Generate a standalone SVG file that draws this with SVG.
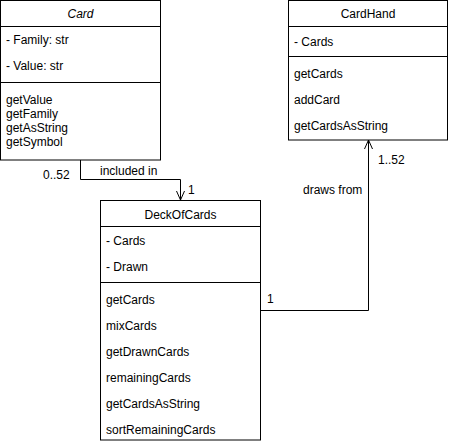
<svg xmlns="http://www.w3.org/2000/svg" width="449" height="444" viewBox="0 0 449 444">
<style>
.box{fill:#fff;stroke:#000;stroke-width:1}
.ln{stroke:#000;stroke-width:1;fill:none}
text{font-family:"Liberation Sans",Arial,sans-serif;font-size:12px;fill:#000}
.c{text-anchor:middle}
</style>
<defs>
<marker id="open" viewBox="0 0 10 10" refX="10" refY="5" markerWidth="10" markerHeight="10" markerUnits="userSpaceOnUse" orient="auto">
<path d="M1,1 L10,5 L1,9" fill="none" stroke="#000" stroke-width="1"/>
</marker>
</defs>
<rect width="449" height="444" fill="#fff"/>
<g id="connectors">
<path class="ln" d="M80.5,160 V179.5 H180.5 V200" marker-end="url(#open)"/>
<path class="ln" d="M261,310.5 H368.5 V140" marker-end="url(#open)"/>
<text x="43" y="179">0..52</text>
<text x="100" y="175">included in</text>
<text x="188" y="194">1</text>
<text x="267" y="303">1</text>
<text x="378" y="164">1..52</text>
<text x="303" y="194">draws from</text>
</g>
<g id="card">
<rect class="box" x="0.5" y="0.5" width="160" height="159.5"/>
<line class="ln" x1="0.5" y1="26.5" x2="160.5" y2="26.5"/>
<line class="ln" x1="0.5" y1="82.5" x2="160.5" y2="82.5"/>
<text class="c" x="80.5" y="18" font-style="italic">Card</text>
<text x="6" y="44">- Family: str</text>
<text x="6" y="70">- Value: str</text>
<text x="6" y="104">getValue</text>
<text x="6" y="118">getFamily</text>
<text x="6" y="132">getAsString</text>
<text x="6" y="146">getSymbol</text>
</g>
<g id="cardhand">
<rect class="box" x="288.5" y="0.5" width="159" height="139.5"/>
<line class="ln" x1="288.5" y1="26.5" x2="447.5" y2="26.5"/>
<line class="ln" x1="288.5" y1="56.5" x2="447.5" y2="56.5"/>
<text class="c" x="368" y="18">CardHand</text>
<text x="294" y="46">- Cards</text>
<text x="294" y="78">getCards</text>
<text x="294" y="104">addCard</text>
<text x="294" y="130">getCardsAsString</text>
</g>
<g id="deckofcards">
<rect class="box" x="100.5" y="200.5" width="160" height="239.5"/>
<line class="ln" x1="100.5" y1="226.5" x2="260.5" y2="226.5"/>
<line class="ln" x1="100.5" y1="282.5" x2="260.5" y2="282.5"/>
<text class="c" x="180.5" y="219">DeckOfCards</text>
<text x="106" y="245">- Cards</text>
<text x="106" y="271">- Drawn</text>
<text x="106" y="304">getCards</text>
<text x="106" y="330">mixCards</text>
<text x="106" y="356">getDrawnCards</text>
<text x="106" y="382">remainingCards</text>
<text x="106" y="408">getCardsAsString</text>
<text x="106" y="434">sortRemainingCards</text>
</g>
</svg>
